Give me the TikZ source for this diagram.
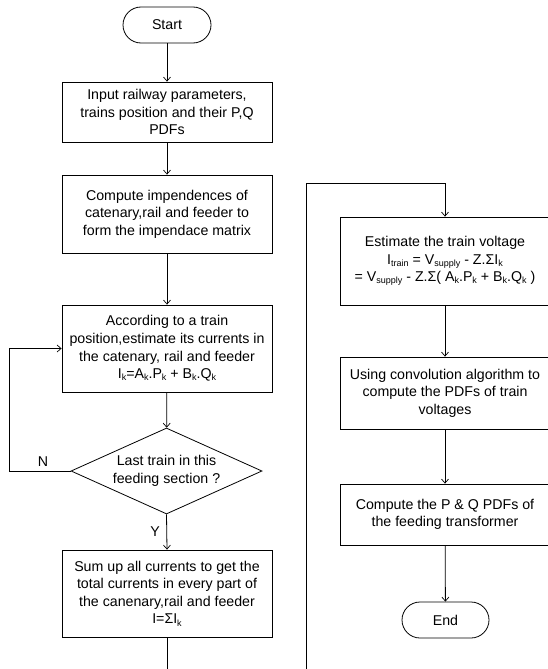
\documentclass[tikz,border=0pt]{standalone}
\usepackage{fontspec}
\setmainfont{Liberation Sans}
\usetikzlibrary{shapes.geometric,arrows.meta}
\newcommand{\sbs}[1]{\raisebox{-0.3ex}{\fontsize{9}{9}\selectfont #1}}
\tikzset{
  base/.style={font=\fontsize{14.2}{17.6}\selectfont, align=center, draw=black, line width=0.8pt, inner sep=0pt},
  procbox/.style={base, rectangle, minimum width=210pt},
  termbox/.style={base, rectangle, rounded corners=18pt, minimum height=36pt},
  decbox/.style={base, diamond, minimum width=191pt, minimum height=86pt, aspect=2.2},
  conn/.style={line width=0.8pt, draw=black, -{Straight Barb[length=4pt,width=7pt,line width=0.7pt]}},
  plainline/.style={line width=0.8pt, draw=black},
  lbl/.style={font=\fontsize{14.2}{17}\selectfont, inner sep=0pt}
}
\begin{document}
\begin{tikzpicture}[x=1pt,y=-1pt]
\useasboundingbox (0,0) rectangle (547,669);
% left column
\node[termbox, minimum width=88pt] (start) at (167,25) {Start};
\node[procbox, minimum height=60pt] (b1) at (167,112) {Input railway parameters,\\trains position and their P,Q\\PDFs};
\node[procbox, minimum height=78pt] (b2) at (167,214) {Compute impendences of\\catenary,rail and feeder to\\form the impendace matrix};
\node[procbox, minimum height=87pt] (b3) at (167,348.5) {According to a train\\position,estimate its currents in\\the catenary, rail and feeder\\I\sbs{k}=A\sbs{k}.P\sbs{k} + B\sbs{k}.Q\sbs{k}};
\node[decbox] (d) at (166.5,471) {Last train in this\\feeding section ?};
\node[procbox, minimum height=87pt] (b4) at (167,593.5) {Sum up all currents to get the\\total currents in every part of\\the canenary,rail and feeder\\I=ΣI\sbs{k}};
% right column
\node[procbox, minimum height=88pt] (b5) at (445,261) {Estimate the train voltage\\I\sbs{train} = V\sbs{supply} - Z.ΣI\sbs{k}\\= V\sbs{supply} - Z.Σ( A\sbs{k}.P\sbs{k} + B\sbs{k}.Q\sbs{k} )};
\node[procbox, minimum height=72pt] (b6) at (445,393) {Using convolution algorithm to\\compute the PDFs of train\\voltages};
\node[procbox, minimum height=61pt] (b7) at (445,514.5) {Compute the P \& Q PDFs of\\the feeding transformer};
\node[termbox, minimum width=87pt] (end) at (445.5,620) {End};
% helper coordinates
\coordinate (lpA) at (9,471);
\coordinate (lpB) at (9,348.5);
\coordinate (botL) at (167,669);
\coordinate (botR) at (306,669);
\coordinate (topR) at (306,183);
\coordinate (topC) at (445,183);
% connectors
\draw[conn] (start) -- (b1);
\draw[conn] (b1) -- (b2);
\draw[conn] (b2) -- (b3);
\draw[conn] (b3) -- (d);
\draw[conn] (d.south) -- (b4.north);
\draw[conn] (d.west) -- (lpA) -- (lpB) -- (b3.west);
\draw[plainline] (b4.south) -- (botL);
\draw[conn] (botR) -- (topR) -- (topC) -- (b5.north);
\draw[conn] (b5) -- (b6);
\draw[conn] (b6) -- (b7);
\draw[conn] (b7) -- (end);
% labels
\node[lbl] (nlab) at (43,462) {N};
\node[lbl] (ylab) at (155,532) {Y};
\end{tikzpicture}
\end{document}
